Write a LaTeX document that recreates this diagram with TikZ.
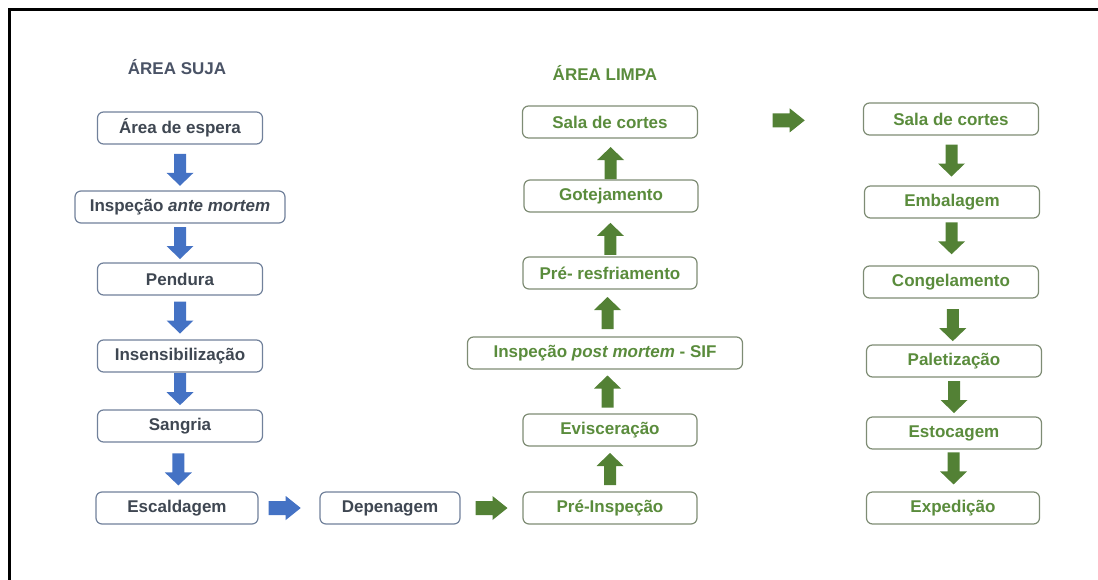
\documentclass[tikz,border=0pt]{standalone}
\usepackage{fontspec}
\setmainfont{Liberation Sans}
\usetikzlibrary{calc}
\definecolor{ablue}{HTML}{4472C4}
\definecolor{agreen}{HTML}{538135}
\definecolor{sborder}{HTML}{71819B}
\definecolor{gborder}{HTML}{7E8C74}
\definecolor{stext}{HTML}{3F4752}
\definecolor{gtext}{HTML}{5A8C3C}
\definecolor{stitle}{HTML}{4A5366}
\tikzset{
  x=1pt, y=1pt,
  basebox/.style={line width=1.2pt, rounded corners=6pt, fill=white,
    minimum height=32pt, inner sep=0pt, font=\fontsize{17}{20}\selectfont\bfseries},
  sbox/.style={basebox, draw=sborder, text=stext},
  gbox/.style={basebox, draw=gborder, text=gtext},
  titletext/.style={font=\fontsize{17}{20}\selectfont\bfseries},
  pics/varrow/.style={code={\fill[#1] (-16,-6) -- (3,-6) -- (3,-13.5) -- (16,0) -- (3,13.5) -- (3,6) -- (-16,6) -- cycle;}},
  pics/harrow/.style={code={\fill[#1] (-16,-7) -- (1,-7) -- (1,-12) -- (16,0) -- (1,12) -- (1,7) -- (-16,7) -- cycle;}},
}
\begin{document}
\begin{tikzpicture}
\useasboundingbox (0,0) rectangle (1098,-579);
% frame
\draw[line width=3.5pt] (9.5,-585) -- (9.5,-9.5) -- (1105,-9.5);

% titles
\node[titletext, text=stitle] (tsuja) at (177,-67) {ÁREA SUJA};
\node[titletext, text=gtext] (tlimpa) at (605,-73) {ÁREA LIMPA};

% left column
\node[sbox, minimum width=165pt] (ae) at (180,-128) {Área de espera};
\node[sbox, minimum width=210pt] (iam) at (180,-207) {Inspeção \textit{ante mortem}};
\node[sbox, minimum width=165pt] (pen) at (180,-279) {Pendura};
\node[sbox, minimum width=165pt] (ins) at (180,-356) {Insensibilização};
\node[sbox, minimum width=165pt] (san) at (180,-426) {Sangria};
\node[sbox, minimum width=162pt] (esc) at (177,-508) {Escaldagem};
\node[sbox, minimum width=140pt] (dep) at (390,-508) {Depenagem};

% middle column
\node[gbox, minimum width=174pt] (pri) at (610,-508) {Pré-Inspeção};
\node[gbox, minimum width=174pt] (evi) at (610,-430) {Evisceração};
\node[gbox, minimum width=275pt] (ipm) at (605,-353) {Inspeção \textit{post mortem} - SIF};
\node[gbox, minimum width=174pt] (prr) at (610,-273) {Pré- resfriamento};
\node[gbox, minimum width=174pt] (got) at (611,-196) {Gotejamento};
\node[gbox, minimum width=175pt] (sc1) at (610,-122) {Sala de cortes};

% right column
\node[gbox, minimum width=175pt] (sc2) at (951,-119) {Sala de cortes};
\node[gbox, minimum width=175pt] (emb) at (952,-202) {Embalagem};
\node[gbox, minimum width=175pt] (con) at (951,-282) {Congelamento};
\node[gbox, minimum width=175pt] (pal) at (954,-361) {Paletização};
\node[gbox, minimum width=175pt] (est) at (954,-433) {Estocagem};
\node[gbox, minimum width=173pt] (exp) at (953,-508) {Expedição};

% left arrows (down)
\pic[rotate=-90] at ($(ae.south)!0.55!(iam.north)$) {varrow=ablue};
\pic[rotate=-90] at ($(iam.south)!0.5!(pen.north)$) {varrow=ablue};
\pic[rotate=-90] at ($(pen.south)!0.5!(ins.north)$) {varrow=ablue};
\pic[rotate=-90] at ($(ins.south)!0.45!(san.north)$) {varrow=ablue};
\pic[rotate=-90] at ($(san.south)!0.55!(esc.north)$) {varrow=ablue};

% horizontal arrows
\pic at ($(esc.east)!0.43!(dep.west)$) {harrow=ablue};
\pic at ($(dep.east)!0.5!(pri.west)$) {harrow=agreen};
\pic at ($(sc1.east)!0.55!(sc2.west)$) {harrow=agreen};

% middle arrows (up)
\pic[rotate=90] at ($(pri.north)!0.5!(evi.south)$) {varrow=agreen};
\pic[rotate=90] at ($(evi.north)!0.5!(ipm.south)$) {varrow=agreen};
\pic[rotate=90] at ($(ipm.north)!0.5!(prr.south)$) {varrow=agreen};
\pic[rotate=90] at ($(prr.north)!0.4!(got.south)$) {varrow=agreen};
\pic[rotate=90] at ($(got.north)!0.4!(sc1.south)$) {varrow=agreen};

% right arrows (down)
\pic[rotate=-90] at ($(sc2.south)!0.5!(emb.north)$) {varrow=agreen};
\pic[rotate=-90] at ($(emb.south)!0.42!(con.north)$) {varrow=agreen};
\pic[rotate=-90] at ($(con.south)!0.58!(pal.north)$) {varrow=agreen};
\pic[rotate=-90] at ($(pal.south)!0.5!(est.north)$) {varrow=agreen};
\pic[rotate=-90] at ($(est.south)!0.45!(exp.north)$) {varrow=agreen};
\end{tikzpicture}
\end{document}
